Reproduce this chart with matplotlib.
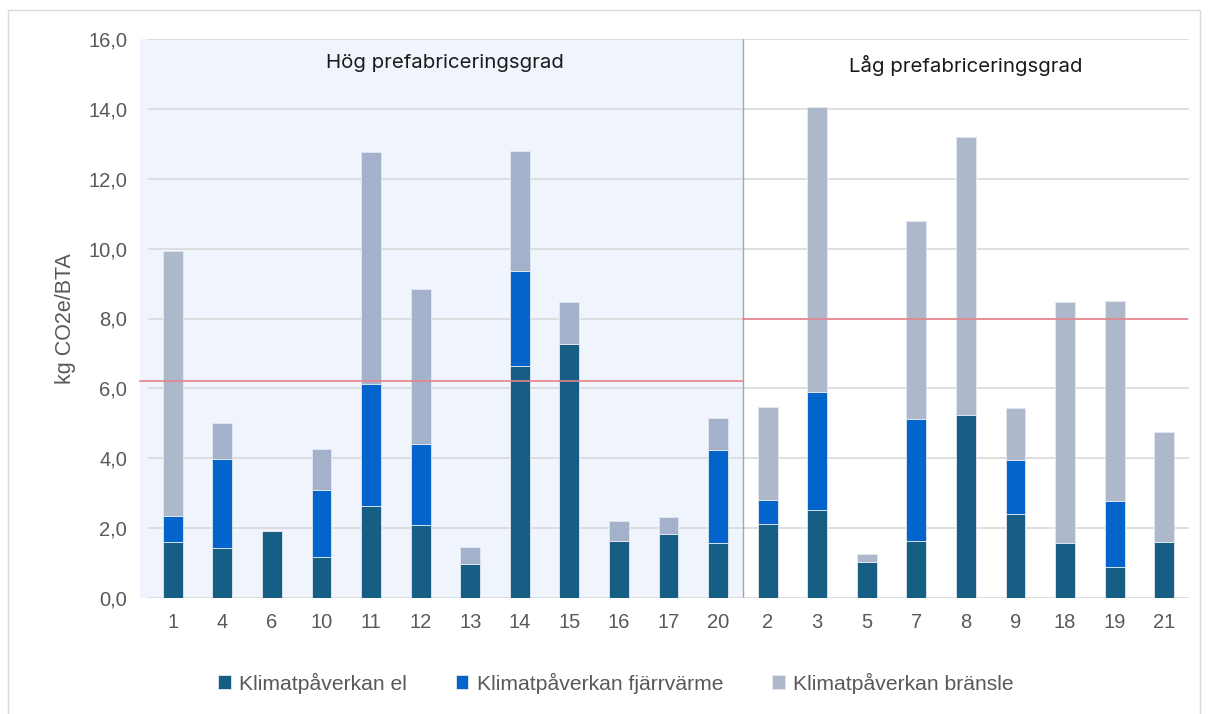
import matplotlib
matplotlib.use("Agg")
import matplotlib.pyplot as plt
from matplotlib.patches import Rectangle
import numpy as np

plt.rcParams['font.family'] = ['Liberation Sans', 'DejaVu Sans']

# Project numbers, grouped by degree of prefabrication
high_ids = ["1", "4", "6", "10", "11", "12", "13", "14", "15", "16", "17", "20"]
low_ids = ["2", "3", "5", "7", "8", "9", "18", "19", "21"]
categories = high_ids + low_ids

# Climate impact per source, kg CO2e/BTA (stacked)
el = [1.60, 1.44, 1.93, 1.16, 2.62, 2.10, 0.97, 6.63, 7.26, 1.63, 1.83, 1.56,
      2.13, 2.53, 1.03, 1.62, 5.25, 2.39, 1.57, 0.90, 1.59]
fjarrvarme = [0.76, 2.55, 0.0, 1.93, 3.50, 2.31, 0.0, 2.72, 0.0, 0.0, 0.0, 2.68,
              0.68, 3.36, 0.0, 3.50, 0.0, 1.56, 0.0, 1.88, 0.0]
bransle = [7.57, 1.02, 0.0, 1.18, 6.65, 4.43, 0.50, 3.45, 1.21, 0.57, 0.49, 0.90,
           2.67, 8.15, 0.23, 5.66, 7.95, 1.49, 6.90, 5.73, 3.17]

# Group averages (reference lines)
avg_high = 6.2
avg_low = 8.0

series_names = ["Klimatpåverkan el", "Klimatpåverkan fjärrvärme", "Klimatpåverkan bränsle"]
group_titles = ["Hög prefabriceringsgrad", "Låg prefabriceringsgrad"]
yticks = np.arange(0, 16.1, 2.0)

c_el = "#165E84"
c_fj = "#0365CC"
c_br_high = "#A3B1CB"
c_br_low = "#ADB9CA"
grid_c = "#D9D9D9"
text_c = "#595959"

fig = plt.figure(figsize=(12.08, 7.14), dpi=100)
ax = fig.add_axes([148 / 1208, 1 - 598 / 714, (1189 - 148) / 1208, (598 - 39) / 714])

n_high = len(high_ids)
x = np.arange(len(categories))
el_a = np.array(el)
fj_a = np.array(fjarrvarme)
br_a = np.array(bransle)
br_colors = [c_br_high] * n_high + [c_br_low] * (len(categories) - n_high)

w = 0.40
edge = dict(edgecolor="#E3E8F0", linewidth=0.6)
ax.bar(x, el_a, w, color=c_el, zorder=3, label=series_names[0], **edge)
ax.bar(x, fj_a, w, bottom=el_a, color=c_fj, zorder=3, label=series_names[1], **edge)
ax.bar(x, br_a, w, bottom=el_a + fj_a, color=br_colors, zorder=3, label=series_names[2], **edge)

split = n_high - 0.5
ax.set_xlim(-0.5, len(categories) - 0.5)
ax.set_ylim(0, 16)

# Shaded area for the high-prefabrication group
ax.add_patch(Rectangle((-0.66, 0), split + 0.66, 16, facecolor="#F0F4FD",
                       edgecolor="none", zorder=0, clip_on=False))
ax.axvline(split, color="#A6A6A6", lw=1.0, zorder=4)

# Group averages
ax.plot([-0.66, split], [avg_high, avg_high], color="#E8838A", lw=1.2, zorder=5, clip_on=False)
ax.plot([split, len(categories) - 0.55], [avg_low, avg_low], color="#E8838A", lw=1.2, zorder=5)

title_font = ['Inter', 'DejaVu Sans']
ax.text((split - 0.5) / 2, 15.32, group_titles[0], ha="center", va="center",
        fontsize=14.7, color="#1a1a1a", zorder=6, family=title_font)
ax.text((split + len(categories) - 0.5) / 2, 15.25, group_titles[1], ha="center",
        va="center", fontsize=14.7, color="#1a1a1a", zorder=6, family=title_font)

ax.set_yticks(yticks)
ax.set_yticklabels([f"{v:.1f}".replace(".", ",") for v in yticks], fontsize=14.5, color=text_c)
ax.set_xticks(x)
ax.set_xticklabels(categories, fontsize=14.5, color=text_c)
ax.tick_params(axis="both", length=0)
ax.tick_params(axis="y", pad=15)
ax.tick_params(axis="x", pad=11)
ax.yaxis.grid(True, color=grid_c, lw=1.2, zorder=1)
ax.set_axisbelow(True)
for s in ax.spines.values():
    s.set_visible(False)
ax.set_facecolor("none")

ax.set_ylabel("kg CO2e/BTA", fontsize=15.5, color=text_c, labelpad=9)

handles, labels = ax.get_legend_handles_labels()
handles[2].patches[0].set_facecolor(c_br_low)
leg = fig.legend(handles, labels, loc="center", bbox_to_anchor=(616 / 1208, 1 - 683 / 714),
                 ncol=3, frameon=False, fontsize=15.2, handlelength=0.6, handleheight=0.6,
                 handletextpad=0.4, columnspacing=2.3)
for t in leg.get_texts():
    t.set_color(text_c)

# Outer chart frame
fig.patches.append(Rectangle((8 / 1208, -0.01), 1192 / 1208, 1 - 10 / 714 + 0.01,
                             transform=fig.transFigure, fill=False,
                             edgecolor="#D9D9D9", lw=1.0))

fig.savefig("out.png", dpi=100)
